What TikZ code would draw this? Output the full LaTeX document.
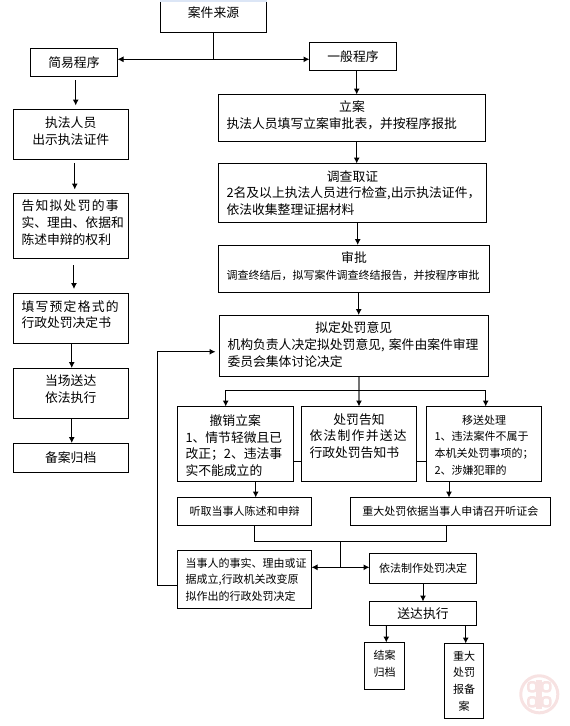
\documentclass[tikz,border=0pt]{standalone}
\usepackage{fontspec}
\setmainfont{Noto Sans CJK SC}
\newfontfamily\cjkwide[LetterSpace=10]{Noto Sans CJK SC}
\usetikzlibrary{arrows.meta,calc}
\newlength\px
\setlength\px{0.75pt}
\newcommand\wideline[1]{{\cjkwide #1}}
\newcommand\titleline[1]{\makebox[\linewidth][c]{#1}}
\newcommand\smallline[1]{{\fontsize{8.25pt}{12.5pt}\selectfont #1}}
\definecolor{sealpink}{HTML}{F7E2E2}
\definecolor{topband}{HTML}{DCE6F6}
\tikzset{
  block/.style n args={2}{draw, line width=0.75pt, outer sep=0pt, inner ysep=0pt, inner xsep=6pt,
    minimum width=#1*\px, minimum height=#2*\px, text width=#1*\px-16*\px, align=left,
    font=\fontsize{9.6pt}{12.5pt}\selectfont},
  middle/.style={align=center},
  fine/.style={font=\fontsize{8.25pt}{12.5pt}\selectfont},
  lift/.style={execute at end node={\par\vspace*{#1\px}}},
  link/.style={line width=0.75pt},
  flow/.style={link, -{Latex[length=4.5pt,width=4.5pt]}},
  gap/.style={shorten <=3pt, shorten >=3pt}
}
\begin{document}
\begin{tikzpicture}[x=0.75pt,y=-0.75pt]
  \useasboundingbox (0,0) rectangle (569,726);

  % left column
  \node[block={106}{31}, middle, lift=8] (source) at (213.5,16.5) {案件来源};
  \node[block={87}{27.5}, middle] (jianyi) at (74,62.25) {简易程序};
  \node[block={114.5}{49.5}, middle, lift=6] (zhifa) at (70.75,134.25) {执法人员\\出示执法证件};
  \node[block={114.5}{64.5}, lift=6] (gaozhi) at (70.75,225.75)
    {\wideline{告知拟处罚的事}\\实、理由、依据和\\陈述申辩的权利};
  \node[block={114.5}{50}, lift=7] (tianxie) at (70.75,318)
    {\wideline{填写预定格式的}\\行政处罚决定书};
  \node[block={114.5}{50}, middle, lift=8] (songda) at (70.75,393) {当场送达\\依法执行};
  \node[block={114.5}{29}, middle] (beian) at (70.75,457.5) {备案归档};

  % right column
  \node[block={87}{28}, middle] (yiban) at (353,56.5) {一般程序};
  \node[block={267}{47}, lift=5] (lian) at (352,118)
    {\titleline{立案}\\执法人员填写立案审批表，并按程序报批};
  \node[block={268}{59}] (diaocha) at (352.5,193)
    {\titleline{调查取证}\\\mbox{2名及以上执法人员进行检查,出示执法证件，}\\依法收集整理证据材料};
  \node[block={271}{47.5}, lift=5] (shenpi) at (354,268.75)
    {\titleline{审批}\\\smallline{调查终结后，拟写案件调查终结报告，并按程序审批}};
  \node[block={268.5}{61.5}, lift=2] (niding) at (353.75,345.75)
    {\titleline{拟定处罚意见}\\机构负责人决定拟处罚意见, 案件由案件审理\\委员会集体讨论决定};

  \node[block={115.5}{75}, lift=-3] (chexiao) at (235.25,444)
    {\titleline{撤销立案}\\1、情节轻微且已\\改正；2、违法事\\实不能成立的};
  \node[block={115}{75}, lift=16] (chufa) at (359,444)
    {\titleline{处罚告知}\\\wideline{依法制作并送达}\\行政处罚告知书};
  \node[block={115}{75}, fine, lift=-2] (yisong) at (484,444)
    {\titleline{移送处理}\\1、违法案件不属于\\本机关处罚事项的；\\2、涉嫌犯罪的};

  \node[block={134}{27.5}, middle, fine] (tingqu) at (244.5,511.25) {听取当事人陈述和申辩};
  \node[block={200.5}{27.5}, middle, fine] (tingzheng) at (450.25,511.25) {重大处罚依据当事人申请召开听证会};
  \node[block={134}{58}, fine] (dangshi) at (244.5,579.5)
    {当事人的事实、理由或证\\据成立,行政机关改变原\\拟作出的行政处罚决定};
  \node[block={107}{30}, middle, fine] (yifa) at (423,568.5) {依法制作处罚决定};
  \node[block={107}{24}, middle] (zhixing) at (423,613.5) {送达执行};
  \node[block={40}{47}, middle, fine, lift=5] (jiean) at (384.5,666) {结案\\归档};
  \node[block={39}{75}, middle, fine] (baobei) at (464,681) {重大\\处罚\\报备\\案};

  \coordinate (fork) at (213.5,59.3);
  \coordinate (split) at (359,390);
  \coordinate (merge) at (340.3,541.7);
  \coordinate (decide) at (340.3,567.3);

  \draw[link] (source.south) -- (fork);
  \draw[flow] (fork) -- (jianyi.east |- fork);
  \draw[flow] (fork) -- (yiban.west |- fork);

  \draw[flow, gap] ($(jianyi.south)+(1.7,0)$) -- ($(zhifa.north)+(4.95,0)$);
  \draw[flow, gap] ($(zhifa.south)+(4,0)$) -- ($(gaozhi.north)+(4,0)$);
  \draw[flow, gap] ($(gaozhi.south)+(3.2,3)$) -- ($(tianxie.north)+(3.2,0)$);
  \draw[flow] ($(tianxie.south)+(1,0)$) -- ($(songda.north)+(1,0)$);
  \draw[flow] ($(songda.south)+(1,0)$) -- ($(beian.north)+(1,0)$);

  \draw[flow] ($(yiban.south)+(3.7,0)$) -- ($(lian.north)+(4.7,0)$);
  \draw[flow] ($(lian.south)+(4.7,0)$) -- ($(diaocha.north)+(4.2,0)$);
  \draw[flow] ($(diaocha.south)+(5.2,0)$) -- ($(shenpi.north)+(3.7,0)$);
  \draw[flow] ($(shenpi.south)+(4.7,0)$) -- ($(niding.north)+(4.95,0)$);

  \draw[line width=1.5pt, draw=black!55, -{Latex[length=4.5pt,width=4.5pt,color=black]}]
    ($(niding.south)+(5.25,0)$) -- (chufa.north);
  \draw[flow] (split) -| ($(chexiao.north)+(-9.55,0)$);
  \draw[flow] (split) -| ($(yisong.north)+(1.7,0)$);

  \draw[link] ($(chexiao.east)+(0,17)$) -- ($(chufa.west)+(0,17)$);
  \draw[link] ($(chufa.east)+(0,17)$) -- ($(yisong.west)+(0,17)$);

  \draw[flow] ($(chexiao.south)+(20.45,0)$) -- ($(tingqu.north)+(11.2,0)$);
  \draw[flow] ($(yisong.south)+(-35,0)$) -- ($(tingzheng.north)+(-1.25,0)$);

  \draw[link] ($(tingqu.south)+(9.8,0)$) |- (merge);
  \draw[link] ($(tingzheng.south)+(-3.55,0)$) |- (merge);
  \draw[link] (merge) -- (decide);
  \draw[flow] (decide) -- (dangshi.east |- decide);
  \draw[flow] (decide) -- (yifa.west |- decide);

  \draw[flow] (yifa.south) -- (zhixing.north);
  \draw[flow] ($(zhixing.south)+(-36.7,0)$) -- ($(jiean.north)+(1.8,0)$);
  \draw[flow] ($(zhixing.south)+(42.7,0)$) -- ($(baobei.north)+(1.7,0)$);

  \draw[flow] ($(dangshi.west)+(0,5.8)$) -- ++(-20,0) |- ($(niding.west)+(-4,6)$);

  % top edge and seal
  \fill[topband] (160,0) rectangle (267,2.2);
  \draw[sealpink, line width=2.25pt] (539.3,694.3) circle [radius=13.9pt];
  \foreach \sx in {-1,1}
    \foreach \sy in {-1,1}
      \draw[sealpink, line width=1.9pt, rounded corners=2pt]
        (539.3+\sx*3,694.3+\sy*3) rectangle (539.3+\sx*11,694.3+\sy*12);
  \fill[sealpink] (536.3,680) rectangle (542.3,709);
\end{tikzpicture}
\end{document}
